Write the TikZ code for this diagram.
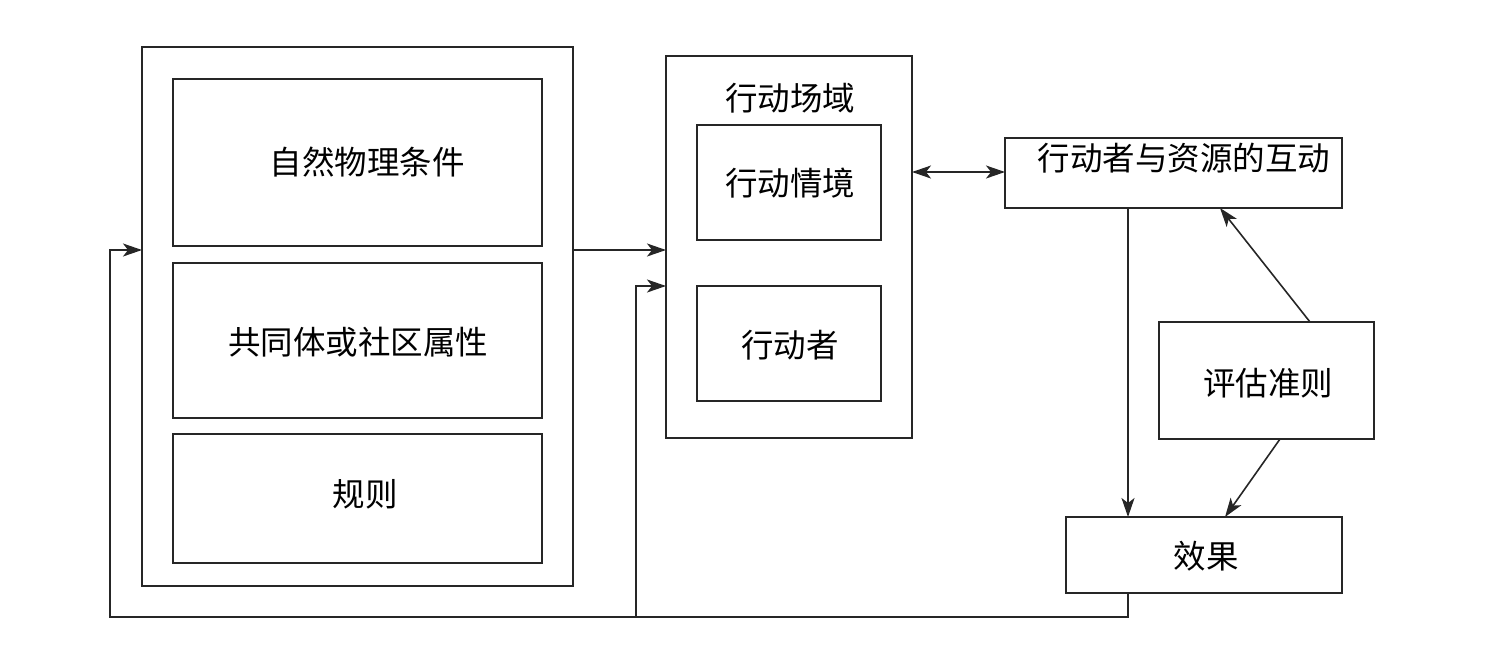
\documentclass[tikz,border=0pt]{standalone}
\usepackage{fontspec}
\setmainfont{Noto Sans CJK SC}
\usetikzlibrary{arrows.meta}
\tikzset{
  mytip/.tip={Stealth[length=19pt,width=13pt,inset=5pt]}
}
\begin{document}
\begin{tikzpicture}[x=1pt,y=-1pt,
  box/.style={draw=black!85,line width=1.6pt},
  lbl/.style={font=\fontsize{32.5pt}{36pt}\selectfont,inner sep=0pt},
  conn/.style={line width=1.6pt,draw=black!85,-mytip},
  dconn/.style={line width=1.6pt,draw=black!85,mytip-mytip}]
\useasboundingbox (0,0) rectangle (1503,646);
% boxes
\draw[box] (142,47) rectangle (573,586);
\draw[box] (173,79) rectangle (542,246);
\node[lbl] (nat) at (367,162) {自然物理条件};
\draw[box] (173,263) rectangle (542,418);
\node[lbl] (comm) at (358,342) {共同体或社区属性};
\draw[box] (173,434) rectangle (542,563);
\node[lbl] (rule) at (365,494) {规则};
\draw[box] (666,56) rectangle (912,438);
\node[lbl] (arena) at (790,98) {行动场域};
\draw[box] (697,125) rectangle (881,240);
\node[lbl] (sit) at (790,183) {行动情境};
\draw[box] (697,286) rectangle (881,401);
\node[lbl] (actor) at (790,345) {行动者};
\node[box,minimum width=337pt,minimum height=70pt,inner sep=0pt] (inter) at (1173.5,173) {};
\node[lbl] at (1184,158) {行动者与资源的互动};
\node[box,minimum width=215pt,minimum height=117pt,inner sep=0pt] (eval) at (1266.5,380.5) {};
\node[lbl] at (1268,383) {评估准则};
\node[box,minimum width=276pt,minimum height=76pt,inner sep=0pt] (eff) at (1204,555) {};
\node[lbl] at (1206,556) {效果};
% coordinates
\coordinate (aL) at (573,250);
\coordinate (aR) at (666,250);
\coordinate (dL) at (912,172);
\coordinate (dR) at (1005,172);
\coordinate (iB) at (1128,208);
\coordinate (eT) at (1128,517);
\coordinate (evT) at (1310,322);
\coordinate (iB2) at (1220,208);
\coordinate (evB) at (1280,439);
\coordinate (eT2) at (1225,517);
\coordinate (fb0) at (1128,593);
\coordinate (fb1) at (1128,617);
\coordinate (fb2) at (110,617);
\coordinate (fb3) at (110,250);
\coordinate (fbin) at (142,250);
\coordinate (br0) at (636,617);
\coordinate (br1) at (636,286);
\coordinate (brin) at (666,286);
% connectors
\draw[conn] (aL) -- (aR);
\draw[dconn] (dL) -- (dR);
\draw[conn] (iB) -- (eT);
\draw[conn] (evT) -- (iB2);
\draw[conn] (evB) -- (eT2);
\draw[conn] (fb0) -- (fb1) -- (fb2) -- (fb3) -- (fbin);
\draw[conn] (br0) -- (br1) -- (brin);
\end{tikzpicture}
\end{document}
